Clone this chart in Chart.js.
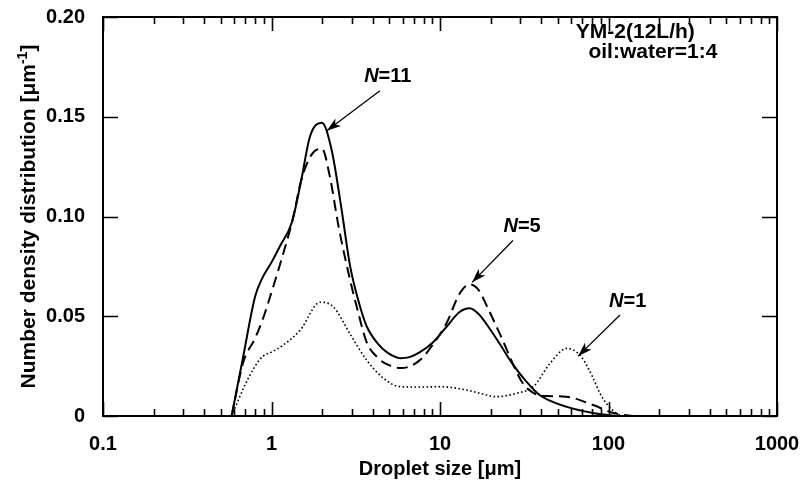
<!DOCTYPE html>
<html>
<head>
<meta charset="utf-8">
<script src="https://cdn.jsdelivr.net/npm/chart.js@4.4.0/dist/chart.umd.min.js"></script>
<style>
  html, body { margin: 0; padding: 0; background: #fff; }
  canvas { display: block; }
</style>
</head>
<body>
<canvas id="chart" width="803" height="492"></canvas>
<script>
// droplet size [um] and number density [1/um] for each run
const sizeN11 = [0.58, 0.68, 0.80, 0.88, 1.0, 1.12, 1.32, 1.5, 1.69, 1.99, 2.28, 2.6, 2.93, 3.35, 3.67, 4.3, 4.83, 5.8, 6.6, 7.6, 9.1, 11, 13, 15, 17, 20, 22.7, 27, 32, 39, 56, 81, 110];
const valN11  = [0, 0.030, 0.060, 0.069, 0.077, 0.085, 0.097, 0.118, 0.140, 0.147, 0.133, 0.104, 0.075, 0.055, 0.045, 0.036, 0.032, 0.029, 0.0295, 0.032, 0.037, 0.045, 0.052, 0.054, 0.051, 0.043, 0.036, 0.026, 0.018, 0.0105, 0.0047, 0.0015, 0];

const sizeN5 = [0.58, 0.68, 0.80, 0.90, 1.0, 1.17, 1.34, 1.5, 1.73, 1.99, 2.22, 2.5, 2.93, 3.2, 3.67, 4.3, 4.83, 5.9, 7.6, 9.1, 11, 13, 15, 17, 19, 22.7, 31, 36, 43, 56, 81, 107, 140];
const valN5  = [0, 0.027, 0.039, 0.050, 0.062, 0.081, 0.099, 0.118, 0.131, 0.134, 0.120, 0.095, 0.068, 0.055, 0.037, 0.029, 0.026, 0.024, 0.028, 0.036, 0.047, 0.061, 0.066, 0.063, 0.055, 0.041, 0.0164, 0.0115, 0.010, 0.0097, 0.0055, 0.0015, 0];

const sizeN1 = [0.58, 0.70, 0.80, 0.89, 1.0, 1.17, 1.48, 1.94, 2.33, 2.93, 3.67, 4.61, 5.8, 8, 10, 14.4, 18, 21.7, 28.5, 35.8, 45, 56.5, 62, 69, 80, 89, 100, 112, 120];
const valN1  = [0, 0.016, 0.025, 0.030, 0.032, 0.0355, 0.043, 0.057, 0.0547, 0.041, 0.028, 0.019, 0.0147, 0.0145, 0.0147, 0.013, 0.011, 0.0097, 0.0114, 0.0147, 0.0264, 0.0339, 0.033, 0.0297, 0.020, 0.0114, 0.005, 0.0013, 0];

const xTickValues = [0.1, 1, 10, 100, 1000];
const xTickLabels = ['0.1', '1', '10', '100', '1000'];
const yTickValues = [0, 0.05, 0.10, 0.15, 0.20];
const yTickLabels = ['0', '0.05', '0.10', '0.15', '0.20'];

// labels with arrows: text centre, arrow start, arrow tip (data coords)
const notes = [
  { n: '11', tx: 4.9, ty: 0.170, ax: 4.4, ay: 0.163, bx: 2.13, by: 0.143 },
  { n: '5', tx: 30.7, ty: 0.095, ax: 27.1, ay: 0.088, bx: 15.5, by: 0.067 },
  { n: '1', tx: 130, ty: 0.0575, ax: 117, ay: 0.0506, bx: 66, by: 0.030 }
];

const FONT = '"Liberation Sans", Arial, sans-serif';
Chart.defaults.font.family = FONT;
Chart.defaults.color = '#000';

function pts(xs, ys) {
  return xs.map((x, i) => ({ x: x, y: ys[i] }));
}

const decor = {
  id: 'decor',
  afterDraw(chart) {
    const c = chart.ctx;
    const a = chart.chartArea;
    const sx = chart.scales.x, sy = chart.scales.y;
    c.save();
    c.strokeStyle = '#000';
    c.lineWidth = 2;
    c.strokeRect(a.left, a.top, a.right - a.left, a.bottom - a.top);

    // inward ticks, log x axis
    c.lineWidth = 1.6;
    c.beginPath();
    for (let e = -1; e <= 3; e++) {
      for (let m = 1; m <= 9; m++) {
        const v = m * Math.pow(10, e);
        if (v > 1000) break;
        const px = Math.round(sx.getPixelForValue(v)) + 0.5;
        const len = m === 1 ? 14 : 7;
        c.moveTo(px, a.bottom); c.lineTo(px, a.bottom - len);
        c.moveTo(px, a.top); c.lineTo(px, a.top + len);
      }
    }
    yTickValues.forEach(v => {
      const py = Math.round(sy.getPixelForValue(v)) + 0.5;
      c.moveTo(a.left, py); c.lineTo(a.left + 15, py);
      c.moveTo(a.right, py); c.lineTo(a.right - 15, py);
    });
    c.stroke();

    // axis titles
    c.fillStyle = '#000';
    c.textBaseline = 'alphabetic';
    c.font = 'bold 20px ' + FONT;
    c.textAlign = 'center';
    c.fillText('Droplet size [μm]', (a.left + a.right) / 2, 475);

    c.save();
    c.translate(35, (a.top + a.bottom) / 2);
    c.rotate(-Math.PI / 2);
    const t1 = 'Number density distribution [μm', t2 = '-1', t3 = ']';
    c.font = 'bold 21px ' + FONT;
    const w1 = c.measureText(t1).width, w3 = c.measureText(t3).width;
    c.font = 'bold 14px ' + FONT;
    const w2 = c.measureText(t2).width;
    let x0 = -(w1 + w2 + w3) / 2;
    c.textAlign = 'left';
    c.font = 'bold 21px ' + FONT;
    c.fillText(t1, x0, 0);
    c.font = 'bold 14px ' + FONT;
    c.fillText(t2, x0 + w1, -8);
    c.font = 'bold 21px ' + FONT;
    c.fillText(t3, x0 + w1 + w2, 0);
    c.restore();

    // condition text
    c.textAlign = 'left';
    c.font = 'bold 21px ' + FONT;
    c.fillText('YM-2(12L/h)', sx.getPixelForValue(64), sy.getPixelForValue(0.1895));
    c.fillText('oil:water=1:4', sx.getPixelForValue(76), sy.getPixelForValue(0.1795));

    // N labels and arrows
    notes.forEach(nt => {
      const tx = sx.getPixelForValue(nt.tx), ty = sy.getPixelForValue(nt.ty);
      c.font = 'italic bold 20px ' + FONT;
      const wn = c.measureText('N').width;
      c.font = 'bold 20px ' + FONT;
      const wr = c.measureText('=' + nt.n).width;
      const x0 = tx - (wn + wr) / 2;
      c.textBaseline = 'middle';
      c.font = 'italic bold 20px ' + FONT;
      c.fillText('N', x0, ty);
      c.font = 'bold 20px ' + FONT;
      c.fillText('=' + nt.n, x0 + wn, ty);

      const x1 = sx.getPixelForValue(nt.ax), y1 = sy.getPixelForValue(nt.ay);
      const x2 = sx.getPixelForValue(nt.bx), y2 = sy.getPixelForValue(nt.by);
      const ang = Math.atan2(y2 - y1, x2 - x1);
      c.lineWidth = 1.3;
      c.beginPath();
      c.moveTo(x1, y1); c.lineTo(x2, y2);
      c.stroke();
      const hl = 15, hw = 0.32;
      c.beginPath();
      c.moveTo(x2, y2);
      c.lineTo(x2 - hl * Math.cos(ang - hw), y2 - hl * Math.sin(ang - hw));
      c.lineTo(x2 - hl * 0.7 * Math.cos(ang), y2 - hl * 0.7 * Math.sin(ang));
      c.lineTo(x2 - hl * Math.cos(ang + hw), y2 - hl * Math.sin(ang + hw));
      c.closePath();
      c.fill();
    });
    c.restore();
  }
};

new Chart(document.getElementById('chart'), {
  type: 'line',
  data: {
    datasets: [
      { label: 'N=11', data: pts(sizeN11, valN11), borderColor: '#000', borderWidth: 2 },
      { label: 'N=5', data: pts(sizeN5, valN5), borderColor: '#000', borderWidth: 2, borderDash: [11, 6] },
      { label: 'N=1', data: pts(sizeN1, valN1), borderColor: '#000', borderWidth: 1.6, borderDash: [1.6, 2.4] }
    ]
  },
  options: {
    responsive: false,
    animation: false,
    events: [],
    layout: { padding: { top: 17, right: 26, left: 0, bottom: 0 } },
    elements: {
      point: { radius: 0 },
      line: { cubicInterpolationMode: 'monotone', fill: false }
    },
    plugins: { legend: { display: false }, tooltip: { enabled: false } },
    scales: {
      x: {
        type: 'logarithmic', min: 0.1, max: 1000,
        grid: { display: false }, border: { display: false },
        ticks: {
          autoSkip: false, maxRotation: 0, padding: 8, color: '#000',
          font: { size: 20, weight: 'bold' },
          callback: (v) => { const i = xTickValues.indexOf(v); return i < 0 ? '' : xTickLabels[i]; }
        },
        afterBuildTicks: s => { s.ticks = xTickValues.map(v => ({ value: v })); },
        afterFit: s => { s.height = 76; s.paddingLeft = 0; s.paddingRight = 0; }
      },
      y: {
        min: 0, max: 0.2,
        grid: { display: false }, border: { display: false },
        ticks: {
          padding: 10, color: '#000',
          font: { size: 20, weight: 'bold' },
          callback: (v, i) => yTickLabels[i]
        },
        afterBuildTicks: s => { s.ticks = yTickValues.map(v => ({ value: v })); },
        afterFit: s => { s.width = 103; s.paddingTop = 0; s.paddingBottom = 0; }
      }
    }
  },
  plugins: [decor]
});
</script>
</body>
</html>
